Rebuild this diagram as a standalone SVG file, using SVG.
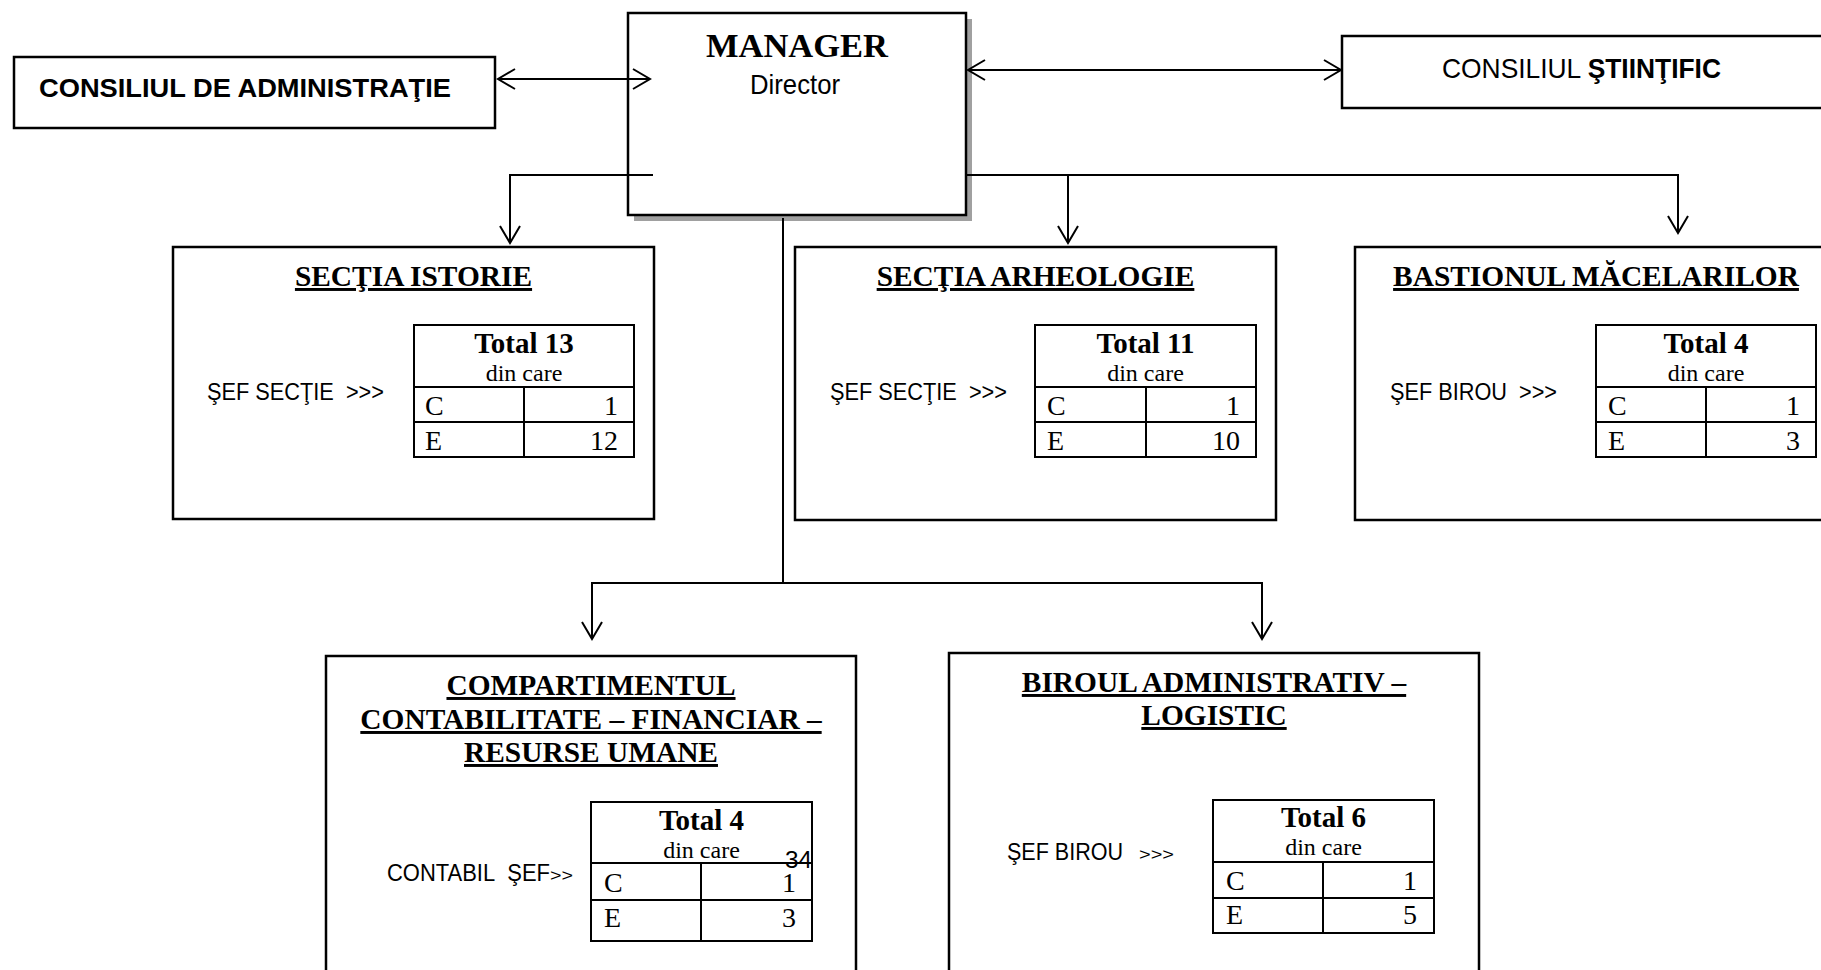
<svg xmlns="http://www.w3.org/2000/svg" width="1821" height="970" viewBox="0 0 1821 970">
<style>
.box{fill:#fff;stroke:#000;stroke-width:2.5}
.tbl{fill:none;stroke:#000;stroke-width:2}
.con{fill:none;stroke:#000;stroke-width:2}
.sans{font-family:"Liberation Sans Narrow","Liberation Sans",Arial,sans-serif;fill:#000}
.serif{font-family:"Liberation Serif","Times New Roman",serif;fill:#000}
.title{font-family:"Liberation Serif","Times New Roman",serif;font-weight:bold;font-size:29.4px;text-anchor:middle;text-decoration:underline;fill:#000}
.tot{font-family:"Liberation Serif","Times New Roman",serif;font-weight:bold;font-size:29px;text-anchor:middle}
.din{font-family:"Liberation Serif","Times New Roman",serif;font-size:24px;text-anchor:middle}
.cell{font-family:"Liberation Serif","Times New Roman",serif;font-size:28px}
.num{font-family:"Liberation Serif","Times New Roman",serif;font-size:28px;text-anchor:end}
.lbl{font-family:"Liberation Sans Narrow","Liberation Sans",Arial,sans-serif;font-size:24.5px}
.sm{font-family:"Liberation Sans Narrow","Liberation Sans",Arial,sans-serif;font-size:16px}
</style>
<defs>
<marker id="arr" markerUnits="userSpaceOnUse" markerWidth="24" markerHeight="24" viewBox="-20 -12 24 24" refX="0" refY="0" orient="auto-start-reverse">
<path d="M-17,-10 L0,0 L-17,10" fill="none" stroke="#000" stroke-width="2"/>
</marker>
</defs>
<rect x="0" y="0" width="1821" height="970" fill="#fff"/>

<g id="consiliul-administratie">
<rect class="box" x="14" y="57" width="481" height="71"/>
<text class="sans" x="39" y="97" font-size="26.5" font-weight="bold" textLength="412" lengthAdjust="spacingAndGlyphs">CONSILIUL DE ADMINISTRAŢIE</text>
</g>

<g id="manager">
<rect x="634" y="19" width="338" height="202" fill="#a0a0a0"/>
<rect class="box" x="628" y="13" width="338" height="202" fill="#fff"/>
<text class="serif" x="797" y="57" font-size="34.5" font-weight="bold" text-anchor="middle">MANAGER</text>
<text class="sans" x="750" y="94" font-size="28" textLength="90" lengthAdjust="spacingAndGlyphs">Director</text>
</g>

<g id="consiliul-stiintific">
<rect class="box" x="1342" y="36" width="490" height="72"/>
<text class="sans" x="1442" y="78" font-size="28" textLength="279" lengthAdjust="spacingAndGlyphs">CONSILIUL <tspan font-weight="bold">ŞTIINŢIFIC</tspan></text>
</g>

<g id="sectia-istorie">
<rect class="box" x="173" y="247" width="481" height="272"/>
<text class="title" x="413.5" y="286">SECŢIA ISTORIE</text>
<text class="lbl" x="207" y="400" textLength="177" lengthAdjust="spacingAndGlyphs">ŞEF SECŢIE&#160; &gt;&gt;&gt;</text>
<rect class="tbl" x="414" y="325" width="220" height="132"/>
<path class="tbl" d="M414,387 H634 M414,422 H634 M524,387 V457"/>
<text class="tot" x="524" y="353">Total 13</text>
<text class="din" x="524" y="381">din care</text>
<text class="cell" x="425" y="415">C</text>
<text class="num" x="618" y="415">1</text>
<text class="cell" x="425" y="450">E</text>
<text class="num" x="618" y="450">12</text>
</g>

<g id="sectia-arheologie">
<rect class="box" x="795" y="247" width="481" height="273"/>
<text class="title" x="1035.5" y="286">SECŢIA ARHEOLOGIE</text>
<text class="lbl" x="830" y="400" textLength="177" lengthAdjust="spacingAndGlyphs">ŞEF SECŢIE&#160; &gt;&gt;&gt;</text>
<rect class="tbl" x="1035" y="325" width="221" height="132"/>
<path class="tbl" d="M1035,387 H1256 M1035,422 H1256 M1146,387 V457"/>
<text class="tot" x="1145.5" y="353">Total 11</text>
<text class="din" x="1145.5" y="381">din care</text>
<text class="cell" x="1047" y="415">C</text>
<text class="num" x="1240" y="415">1</text>
<text class="cell" x="1047" y="450">E</text>
<text class="num" x="1240" y="450">10</text>
</g>

<g id="bastionul-macelarilor">
<rect class="box" x="1355" y="247" width="490" height="273"/>
<text class="title" x="1596" y="286">BASTIONUL MĂCELARILOR</text>
<text class="lbl" x="1390" y="400" textLength="167" lengthAdjust="spacingAndGlyphs">ŞEF BIROU&#160; &gt;&gt;&gt;</text>
<rect class="tbl" x="1596" y="325" width="220" height="132"/>
<path class="tbl" d="M1596,387 H1816 M1596,422 H1816 M1706,387 V457"/>
<text class="tot" x="1706" y="353">Total 4</text>
<text class="din" x="1706" y="381">din care</text>
<text class="cell" x="1608" y="415">C</text>
<text class="num" x="1800" y="415">1</text>
<text class="cell" x="1608" y="450">E</text>
<text class="num" x="1800" y="450">3</text>
</g>

<g id="compartimentul-contabilitate">
<rect class="box" x="326" y="656" width="530" height="330"/>
<text class="title" x="591" y="695">COMPARTIMENTUL</text>
<text class="title" x="591" y="729">CONTABILITATE – FINANCIAR –</text>
<text class="title" x="591" y="762">RESURSE UMANE</text>
<text class="lbl" x="387" y="881" textLength="163" lengthAdjust="spacingAndGlyphs">CONTABIL&#160; ŞEF</text>
<text class="sm" x="550" y="881" textLength="23" lengthAdjust="spacingAndGlyphs">&gt;&gt;</text>
<rect class="tbl" x="591" y="802" width="221" height="139"/>
<path class="tbl" d="M591,863 H812 M591,900 H812 M701,863 V941"/>
<text class="tot" x="701.5" y="830">Total 4</text>
<text class="din" x="701.5" y="858">din care</text>
<text class="sans" x="785" y="868" font-size="24" textLength="27" lengthAdjust="spacingAndGlyphs">34</text>
<text class="cell" x="604" y="892">C</text>
<text class="num" x="796" y="892">1</text>
<text class="cell" x="604" y="927">E</text>
<text class="num" x="796" y="927">3</text>
</g>

<g id="biroul-administrativ">
<rect class="box" x="949" y="653" width="530" height="330"/>
<text class="title" x="1214" y="692">BIROUL ADMINISTRATIV –</text>
<text class="title" x="1214" y="725">LOGISTIC</text>
<text class="lbl" x="1007" y="860" textLength="116" lengthAdjust="spacingAndGlyphs">ŞEF BIROU</text>
<text class="sm" x="1139" y="860" textLength="35" lengthAdjust="spacingAndGlyphs">&gt;&gt;&gt;</text>
<rect class="tbl" x="1213" y="800" width="221" height="133"/>
<path class="tbl" d="M1213,862 H1434 M1213,898 H1434 M1323,862 V933"/>
<text class="tot" x="1323.5" y="827">Total 6</text>
<text class="din" x="1323.5" y="855">din care</text>
<text class="cell" x="1226" y="890">C</text>
<text class="num" x="1417" y="890">1</text>
<text class="cell" x="1226" y="924">E</text>
<text class="num" x="1417" y="924">5</text>
</g>

<g id="connectors">
<line class="con" x1="498" y1="79" x2="650" y2="79" marker-start="url(#arr)" marker-end="url(#arr)"/>
<line class="con" x1="968" y1="70" x2="1341" y2="70" marker-start="url(#arr)" marker-end="url(#arr)"/>
<path class="con" d="M653,175 H510 V243" marker-end="url(#arr)"/>
<path class="con" d="M966,175 H1678 V233" marker-end="url(#arr)"/>
<path class="con" d="M1068,175 V243" marker-end="url(#arr)"/>
<path class="con" d="M783,218 V583 H592 V639" marker-end="url(#arr)"/>
<path class="con" d="M783,583 H1262 V639" marker-end="url(#arr)"/>
</g>
</svg>
